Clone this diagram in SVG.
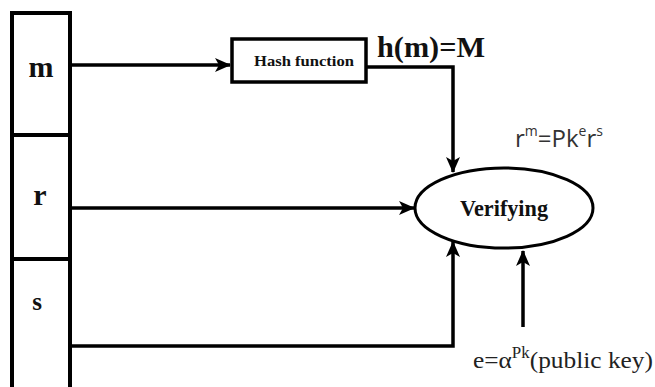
<svg xmlns="http://www.w3.org/2000/svg" width="655" height="387" viewBox="0 0 655 387">
<defs>
<style>
.box{fill:#fff;stroke:#000;stroke-width:4}
.hb{fill:#fff;stroke:#000;stroke-width:3.5}
.ell{fill:#fff;stroke:#000;stroke-width:3}
.ln{fill:none;stroke:#000;stroke-width:3.5}
.bs{font-family:'Liberation Serif','Times New Roman',serif;font-weight:bold;fill:#111}
.sf{font-family:'Liberation Serif','Times New Roman',serif;fill:#222}
.ss{font-family:'Open Sans','Liberation Sans',sans-serif;fill:#333}
</style>
<marker id="ah" markerUnits="userSpaceOnUse" markerWidth="16" markerHeight="14" refX="15" refY="7" orient="auto">
<path d="M0,0 L16,7 L0,14 L4,7 Z" fill="#000"/>
</marker>
</defs>
<rect width="655" height="387" fill="#fff"/>
<g id="connectors">
<line class="ln" x1="72" y1="65" x2="230" y2="65" marker-end="url(#ah)"/>
<polyline class="ln" points="367,67 453,67 453,172" marker-end="url(#ah)"/>
<line class="ln" x1="72" y1="208" x2="414" y2="208" marker-end="url(#ah)"/>
<polyline class="ln" points="72,346 453,346 453,242" marker-end="url(#ah)"/>
<line class="ln" x1="523" y1="327" x2="523" y2="251" marker-end="url(#ah)"/>
</g>
<g id="cell-m">
<rect class="box" x="12" y="13" width="58" height="122"/>
<text class="bs" x="41" y="77" font-size="30" text-anchor="middle">m</text>
</g>
<g id="cell-r">
<rect class="box" x="12" y="135" width="58" height="124"/>
<text class="bs" x="40" y="205" font-size="30" text-anchor="middle">r</text>
</g>
<g id="cell-s">
<rect class="box" x="12" y="259" width="58" height="135"/>
<text class="bs" x="37" y="310" font-size="25" text-anchor="middle">s</text>
</g>
<g id="hash">
<rect class="hb" x="232" y="39" width="134" height="43"/>
<text class="bs" x="304" y="66" font-size="14" text-anchor="middle" textLength="100" lengthAdjust="spacingAndGlyphs">Hash function</text>
</g>
<g id="hm-label">
<text class="bs" x="377" y="57" font-size="30" textLength="108" lengthAdjust="spacingAndGlyphs">h(m)=M</text>
</g>
<g id="verifying">
<ellipse class="ell" cx="504" cy="208" rx="89" ry="40"/>
<text class="bs" x="504" y="216" font-size="23" text-anchor="middle" textLength="88" lengthAdjust="spacingAndGlyphs">Verifying</text>
</g>
<g id="eq-label">
<text class="ss" x="515" y="147" font-size="24">r<tspan font-size="14" dy="-11">m</tspan><tspan dy="11">=Pk</tspan><tspan font-size="14" dy="-11">e</tspan><tspan dy="11">r</tspan><tspan font-size="14" dy="-11">s</tspan></text>
</g>
<g id="pk-label">
<text class="sf" x="473" y="368" font-size="24" textLength="180" lengthAdjust="spacingAndGlyphs">e=α<tspan font-size="16" dy="-10">Pk</tspan><tspan dy="10">(public key)</tspan></text>
</g>
</svg>
